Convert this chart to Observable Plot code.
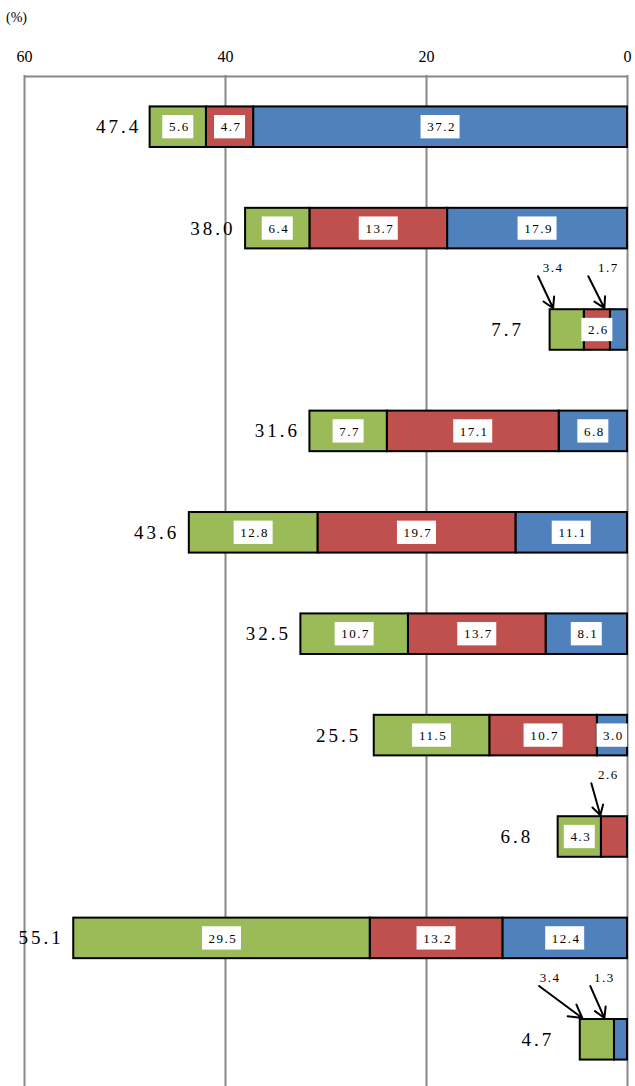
<!DOCTYPE html>
<html><head><meta charset="utf-8">
<script src="https://cdn.jsdelivr.net/npm/d3@7"></script>
<script src="https://cdn.jsdelivr.net/npm/@observablehq/plot@0.6"></script>
<style>
body{margin:0;background:#fff;}
#wrap{position:relative;width:635px;height:1086px;overflow:hidden;}
#unit{position:absolute;left:6px;top:10px;font:14px "Liberation Serif","DejaVu Serif",serif;color:#000;}
g[aria-description="totals"] text{letter-spacing:3px;}
g[aria-description="inner-labels"] text, g[aria-description="note-labels"] text{letter-spacing:1.5px;}
</style>
</head><body><div id="wrap"><div id="unit">(%)</div></div>
<script>
// ---- data ----
const rows = [0, 1, 2, 3, 4, 5, 6, 7, 8, 9];
const greenValues = [5.6, 6.4, 3.4, 7.7, 12.8, 10.7, 11.5, 4.3, 29.5, 3.4];
const redValues   = [4.7, 13.7, 2.6, 17.1, 19.7, 13.7, 10.7, 2.6, 13.2, 0];
const blueValues  = [37.2, 17.9, 1.7, 6.8, 11.1, 8.1, 3.0, 0, 12.4, 1.3];
const totals      = [47.4, 38.0, 7.7, 31.6, 43.6, 32.5, 25.5, 6.8, 55.1, 4.7];
const xTicks = [60, 40, 20, 0];
// small segments annotated with arrows (row, series, label x, arrow start x, arrow tip x), in % units
const arrowNotes = [
  {row: 2, series: "green", labelX: 7.4, fromX: 8.9, toX: 7.4},
  {row: 2, series: "blue",  labelX: 1.9, fromX: 3.9, toX: 2.3},
  {row: 7, series: "red",   labelX: 1.9, fromX: 3.6, toX: 2.7},
  {row: 9, series: "green", labelX: 7.7, fromX: 8.8, toX: 4.5},
  {row: 9, series: "blue",  labelX: 2.3, fromX: 3.7, toX: 2.3}
];

const seriesOrder = ["blue", "red", "green"];
const valuesBySeries = {blue: blueValues, red: redValues, green: greenValues};
const colors = {blue: "#4F81BD", red: "#C0504D", green: "#9BBB59"};
const fmt = v => v.toFixed(1);

const segments = [];
rows.forEach(i => {
  let acc = 0;
  for (const s of seriesOrder) {
    const v = valuesBySeries[s][i];
    if (v > 0) segments.push({row: i, series: s, value: v, x1: acc, x2: acc + v, mid: acc + v / 2});
    acc += v;
  }
});
const isArrowed = d => arrowNotes.some(n => n.row === d.row && n.series === d.series);
const inner = segments.filter(d => !isArrowed(d));
const inner3 = inner.filter(d => fmt(d.value).length <= 3);
const inner4 = inner.filter(d => fmt(d.value).length > 3);
const notes = arrowNotes.map(n => ({...n, value: valuesBySeries[n.series][n.row]}));
const totalData = rows.map(i => ({row: i, total: totals[i]}));

const half = 0.2, boxHalf = 0.115;
const font = '"Liberation Serif","DejaVu Serif",serif';

const chart = Plot.plot({
  width: 635, height: 1086,
  marginTop: 75, marginLeft: 24, marginRight: 8, marginBottom: 0,
  style: {background: "white", fontFamily: font, fontSize: "16px", color: "#000"},
  x: {domain: [0, 60], reverse: true, axis: "top", ticks: xTicks, tickSize: 0, tickPadding: 14, label: null, tickFormat: d => d},
  y: {domain: [-0.5, 9.5], range: [76, 1090], axis: null},
  marks: [
    Plot.ruleX(xTicks, {stroke: "#888", strokeWidth: 2}),
    Plot.ruleY([-0.5], {stroke: "#888", strokeWidth: 2}),
    Plot.rectX(segments, {x1: "x1", x2: "x2", y1: d => d.row - half, y2: d => d.row + half,
      fill: d => colors[d.series], stroke: "black", strokeWidth: 2}),
    Plot.rectX(inner3, {x1: "mid", x2: "mid", y1: d => d.row - boxHalf, y2: d => d.row + boxHalf,
      fill: "white", insetLeft: -15.5, insetRight: -15.5}),
    Plot.rectX(inner4, {x1: "mid", x2: "mid", y1: d => d.row - boxHalf, y2: d => d.row + boxHalf,
      fill: "white", insetLeft: -19.5, insetRight: -19.5}),
    Plot.text(inner, {x: "mid", y: "row", text: d => fmt(d.value), fontSize: 13, fill: "#000",
      ariaDescription: "inner-labels", dx: 1}),
    Plot.text(totalData, {x: "total", y: "row", text: d => fmt(d.total), textAnchor: "end",
      fontSize: 19, fill: "#000", ariaDescription: "totals",
      filter: d => d.total >= 10, dx: -10}),
    Plot.text(totalData, {x: "total", y: "row", text: d => fmt(d.total), textAnchor: "end",
      fontSize: 19, fill: "#000", ariaDescription: "totals",
      filter: d => d.total < 10, dx: -26}),
    Plot.arrow(notes, {x1: "fromX", y1: d => d.row - 0.53, x2: "toX", y2: d => d.row - 0.215,
      stroke: "black", strokeWidth: 2, headLength: 11, bend: 0}),
    Plot.text(notes, {x: "labelX", y: d => d.row - 0.61, text: d => fmt(d.value), fontSize: 13,
      fill: "#000", ariaDescription: "note-labels"})
  ]
});
document.getElementById("wrap").appendChild(chart);
</script>
</body></html>
